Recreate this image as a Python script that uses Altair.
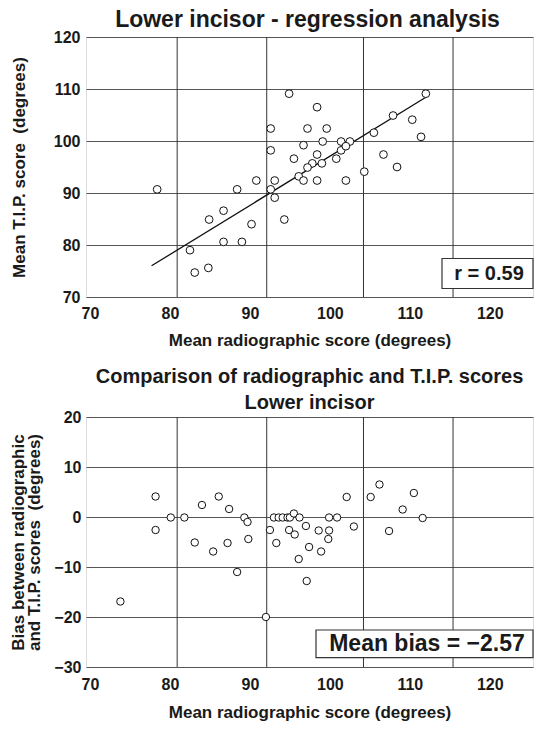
import altair as alt
import pandas as pd

FONT = "Liberation Sans"
INK = "#1a1a1a"

# ---------------- data ----------------
# Top panel: mean radiographic score vs mean T.I.P. score
top_x = [98.4, 92.6, 97.2, 99.6, 96.7, 99.1, 92.6, 95.5, 98.4, 97.8, 99.0, 97.2,
         96.1, 96.7, 98.4, 90.8, 93.1, 78.4, 88.4, 92.6, 93.1, 86.7, 84.9, 94.3,
         90.2, 86.7, 89.0, 82.5, 84.8, 83.1, 101.4, 102.5, 107.9, 110.3, 105.5,
         111.4, 101.4, 102.0, 100.8, 106.7, 104.3, 108.4, 102.0, 94.9, 112.0]
top_y = [106.5, 102.4, 102.4, 102.4, 99.2, 99.9, 98.2, 96.6, 97.4, 95.7, 95.7, 94.9,
         93.2, 92.4, 92.4, 92.4, 92.4, 90.7, 90.7, 90.7, 89.1, 86.6, 84.9, 84.9,
         84.0, 80.6, 80.6, 79.0, 75.6, 74.7, 99.9, 99.9, 104.9, 104.1, 101.6,
         100.8, 98.2, 99.0, 96.6, 97.4, 94.1, 95.0, 92.4, 109.1, 109.1]

# regression line end points
reg_x = [77.7, 112.0]
reg_y = [76.0, 108.4]

# Bottom panel: mean score vs bias
bias_x = [78.2, 78.2, 80.1, 81.8, 84.0, 83.1, 86.1, 85.4, 87.4, 87.2, 89.3, 89.7,
          89.8, 88.4, 73.8, 92.0, 92.5, 93.3, 93.0, 93.6, 94.1, 94.7, 95.0, 94.9,
          95.5, 95.6, 96.2, 97.0, 97.4, 96.1, 97.1, 98.6, 98.9, 99.9, 100.9, 99.9,
          99.8, 102.1, 103.0, 105.1, 106.2, 109.1, 110.5, 111.6, 107.4]
bias_y = [4.1, -2.6, -0.1, -0.1, 2.4, -5.1, 4.1, -6.9, 1.6, -5.2, -0.1, -1.0,
          -4.4, -11.0, -16.9, -20.0, -2.6, -5.2, -0.1, -0.1, -0.1, -0.1, -0.1, -2.6,
          0.7, -3.5, -0.1, -1.8, -6.0, -8.4, -12.8, -2.7, -6.9, -0.1, -0.1, -2.7,
          -4.4, 4.0, -1.9, 4.0, 6.5, 1.5, 4.8, -0.2, -2.8]

x_ticks = [70, 80, 90, 100, 110, 120]
x_grid = [80.9, 92.1, 104.2, 115.4]
top_y_ticks = [70, 80, 90, 100, 110, 120]
bot_y_ticks = [-30, -20, -10, 0, 10, 20]

r_label = "r = 0.59"
bias_label = "Mean bias = \u22122.57"

# ---------------- helpers ----------------
xscale = alt.Scale(domain=[69.5, 125.4], nice=False, zero=False)


def x_axis(label_pad, title_pad):
    return alt.Axis(values=x_ticks, grid=False, ticks=False, tickSize=0, domain=False,
                    labelFont=FONT, labelFontSize=16, labelFontWeight="bold",
                    labelColor=INK, labelPadding=label_pad, labelFlush=False,
                    title="Mean radiographic score (degrees)", titleFont=FONT,
                    titleFontSize=17, titleFontWeight="bold", titleColor=INK,
                    titlePadding=title_pad)


def y_axis(values, title, label_pad, title_pad, line_height=None):
    kw = dict(values=values, grid=True, gridColor="#555", gridWidth=1,
              ticks=False, tickSize=0, domain=False,
              labelFont=FONT, labelFontSize=16, labelFontWeight="bold",
              labelColor=INK, labelPadding=label_pad, labelFlush=False,
              title=title, titleFont=FONT, titleFontSize=17,
              titleFontWeight="bold", titleColor=INK, titlePadding=title_pad)
    if line_height is not None:
        kw["titleLineHeight"] = line_height
    return alt.Axis(**kw)


W = 447

# ---------------- top panel ----------------
top_df = pd.DataFrame({"x": top_x, "y": top_y})
reg_df = pd.DataFrame({"x": reg_x, "y": reg_y})
grid_df = pd.DataFrame({"x": x_grid})

ys_top = alt.Scale(domain=[70, 120], nice=False, zero=False)
xa_top = x_axis(8, 11.7)
ya_top = y_axis(top_y_ticks, "Mean T.I.P. score \u00a0(degrees)", 6, 25)

t_grid = alt.Chart(grid_df).mark_rule(color="#333", strokeWidth=1).encode(
    x=alt.X("x:Q", scale=xscale, axis=xa_top))
t_line = alt.Chart(reg_df).mark_line(color="#111", strokeWidth=1.3).encode(
    x=alt.X("x:Q", scale=xscale, axis=xa_top),
    y=alt.Y("y:Q", scale=ys_top, axis=ya_top))
t_pts = alt.Chart(top_df).mark_point(shape="circle", filled=True, fill="white",
                                     stroke="#111", strokeWidth=1, size=60,
                                     opacity=1).encode(
    x=alt.X("x:Q", scale=xscale, axis=xa_top),
    y=alt.Y("y:Q", scale=ys_top, axis=ya_top))
r_df = pd.DataFrame({"t": [r_label]})
t_box = alt.Chart(r_df).mark_rect(fill="white", stroke="#333", strokeWidth=1.2).encode(
    x=alt.value(356), x2=alt.value(W), y=alt.value(221.5), y2=alt.value(251.5))
t_txt = alt.Chart(r_df).mark_text(font=FONT, fontSize=20, fontWeight="bold",
                                  color=INK, align="center", baseline="middle").encode(
    text="t:N", x=alt.value(403), y=alt.value(237))

top = alt.layer(t_grid, t_line, t_pts, t_box, t_txt).properties(
    width=W, height=260,
    title=alt.TitleParams("Lower incisor - regression analysis", font=FONT,
                          fontSize=23, fontWeight="bold", color=INK,
                          anchor="middle", offset=-2.5, dx=-2))

# ---------------- bottom panel ----------------
H2 = 250
bot_df = pd.DataFrame({"x": bias_x, "y": bias_y})
ys_bot = alt.Scale(domain=[-30, 20], nice=False, zero=False)
xa_bot = x_axis(9.5, 12)
ya_bot = y_axis(bot_y_ticks, ["Bias between radiographic", "and T.I.P. scores \u00a0(degrees)"],
                5, 10, line_height=16)

b_grid = alt.Chart(grid_df).mark_rule(color="#333", strokeWidth=1).encode(
    x=alt.X("x:Q", scale=xscale, axis=xa_bot))
b_pts = alt.Chart(bot_df).mark_point(shape="circle", filled=True, fill="white",
                                     stroke="#111", strokeWidth=1, size=55,
                                     opacity=1).encode(
    x=alt.X("x:Q", scale=xscale, axis=xa_bot),
    y=alt.Y("y:Q", scale=ys_bot, axis=ya_bot))
b_df = pd.DataFrame({"t": [bias_label]})
b_box = alt.Chart(b_df).mark_rect(fill="white", stroke="#333", strokeWidth=1.2).encode(
    x=alt.value(230), x2=alt.value(W), y=alt.value(H2 - 37), y2=alt.value(H2 - 9.3))
b_txt = alt.Chart(b_df).mark_text(font=FONT, fontSize=23, fontWeight="bold",
                                  color=INK, align="center", baseline="middle").encode(
    text="t:N", x=alt.value(341), y=alt.value(H2 - 23.2))

bottom = alt.layer(b_grid, b_pts, b_box, b_txt).properties(
    width=W, height=H2,
    title=alt.TitleParams(["Comparison of radiographic and T.I.P. scores", "Lower incisor"],
                          font=FONT, fontSize=20, fontWeight="bold", color=INK,
                          lineHeight=26, anchor="middle", offset=-4))

chart = alt.concat(top, bottom, columns=1, spacing=16, align="none").resolve_scale(
    x="independent").properties(
    padding={"left": 1, "top": 0, "right": 0, "bottom": 0},
).configure_view(stroke="#888", strokeWidth=1).configure(background="white")

chart.save("out.html", embed_options={"renderer": "svg", "actions": False})
